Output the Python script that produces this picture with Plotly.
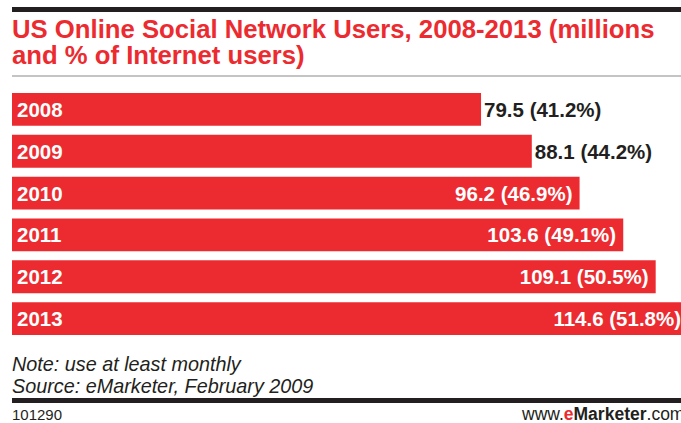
import plotly.graph_objects as go

# ---- data ----
years = ["2008", "2009", "2010", "2011", "2012", "2013"]
users_millions = [79.5, 88.1, 96.2, 103.6, 109.1, 114.6]
pct_internet = ["41.2%", "44.2%", "46.9%", "49.1%", "50.5%", "51.8%"]
label_outside = [True, True, False, False, False, False]

title_lines = ["US Online Social Network Users, 2008-2013 (millions",
               "and % of Internet users)"]
note_text = "Note: use at least monthly"
source_text = "Source: eMarketer, February 2009"
chart_id = "101290"

RED = "#EC2B30"
DARK = "#231F20"
W, H = 681, 423

def py(px):
    return 1 - px / H

def pxx(px):
    return px / W

labels = []
for v, p, out in zip(users_millions, pct_internet, label_outside):
    t = f"{v:.1f} ({p})"
    labels.append(t if out else t + "\u2009")

fig = go.Figure()
fig.add_trace(go.Bar(
    x=users_millions, y=years, orientation="h",
    marker=dict(color=RED, line=dict(width=0)),
    text=labels,
    textposition=["outside" if o else "inside" for o in label_outside],
    insidetextanchor="end",
    textfont=dict(family="Liberation Sans", size=20.5,
                  color=[DARK if o else "white" for o in label_outside],
                  weight="bold"),
    cliponaxis=True,
    hoverinfo="skip",
))

scale = 5.90  # px per million
x_left = 12
fig.update_layout(
    width=W, height=H,
    margin=dict(l=0, r=0, t=0, b=0),
    paper_bgcolor="white", plot_bgcolor="white",
    showlegend=False,
    bargap=0.214,
    xaxis=dict(domain=[pxx(x_left), 1], range=[0, (W - x_left) / scale],
               visible=False, fixedrange=True),
    yaxis=dict(type="category", domain=[py(339.5), py(88.5)],
               range=[len(years) - 0.5, -0.5],
               visible=False, fixedrange=True, categoryorder="array",
               categoryarray=years),
)

# year labels inside bars
for i, yr in enumerate(years):
    fig.add_annotation(x=0, y=i, xref="x", yref="y", text=f"<b>{yr}</b>",
                       showarrow=False, xanchor="left", xshift=3,
                       font=dict(family="Liberation Sans", size=20.5, color="white"))

# title lines
for line, yc in zip(title_lines, [29, 55]):
    fig.add_annotation(x=pxx(x_left), y=py(yc), xref="paper", yref="paper",
                       text=f"<b>{line}</b>", showarrow=False,
                       xanchor="left", yanchor="middle", xshift=-2,
                       font=dict(family="Liberation Sans", size=25.7, color=RED))

# footer notes
fig.add_annotation(x=pxx(x_left), y=py(364), xref="paper", yref="paper",
                   text=f"<i>{note_text}</i>", showarrow=False,
                   xanchor="left", yanchor="middle", xshift=-2,
                   font=dict(family="Liberation Sans", size=19.8, color=DARK))
fig.add_annotation(x=pxx(x_left), y=py(386), xref="paper", yref="paper",
                   text=f"<i>{source_text}</i>", showarrow=False,
                   xanchor="left", yanchor="middle", xshift=-2,
                   font=dict(family="Liberation Sans", size=19.8, color=DARK))
fig.add_annotation(x=pxx(x_left), y=py(414), xref="paper", yref="paper",
                   text=chart_id, showarrow=False,
                   xanchor="left", yanchor="middle", xshift=-2,
                   font=dict(family="Liberation Sans", size=15, color=DARK))
fig.add_annotation(x=pxx(521), y=py(414), xref="paper", yref="paper",
                   text=f"www.<b><span style='color:{RED}'>e</span>Marketer</b>.com",
                   showarrow=False, xanchor="left", yanchor="middle", xshift=-2,
                   font=dict(family="Liberation Sans", size=17.5, color=DARK))

# rules
fig.add_shape(type="rect", xref="paper", yref="paper",
              x0=pxx(x_left), x1=1, y0=py(12), y1=py(7),
              fillcolor="#231F20", line=dict(width=0), layer="above")
fig.add_shape(type="line", xref="paper", yref="paper",
              x0=pxx(x_left), x1=1, y0=py(76), y1=py(76),
              line=dict(color="#8A8A8A", width=1.2))
fig.add_shape(type="rect", xref="paper", yref="paper",
              x0=pxx(x_left), x1=1, y0=py(403), y1=py(398),
              fillcolor="#231F20", line=dict(width=0))

fig.write_html("out.html", config={"displayModeBar": False},
               post_script="document.body.style.margin='0';document.body.style.overflow='hidden';")
